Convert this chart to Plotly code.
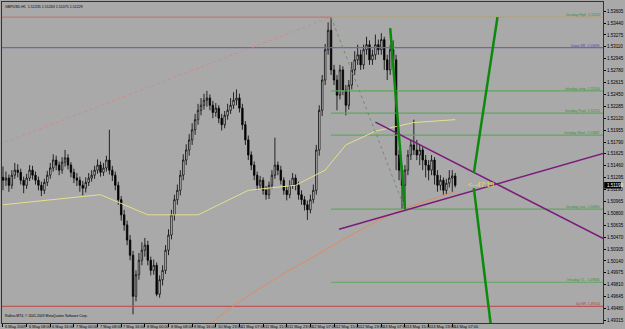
import plotly.graph_objects as go

# ---------------- data ----------------
opens = [1.5130,1.5126,1.5129,1.5119,1.5133,1.5140,1.5137,1.5126,1.5119,1.5129,
         1.5140,1.5133,1.5126,1.5119,1.5112,1.5123,1.5133,1.5143,1.5154,1.5147,
         1.5140,1.5151,1.5157,1.5147,1.5137,1.5129,1.5126,1.5119,1.5115,1.5123,
         1.5129,1.5133,1.5140,1.5147,1.5137,1.5143,1.5154,1.5140,1.5133,1.5119,
         1.5099,1.5078,1.5064,1.5043,1.5022,1.4965,1.4995,1.5015,1.5029,1.5036,
         1.5015,1.5001,1.5008,1.4968,1.4988,1.5001,1.5029,1.5050,1.5078,1.5099,
         1.5112,1.5133,1.5154,1.5168,1.5182,1.5196,1.5210,1.5223,1.5230,1.5237,
         1.5240,1.5230,1.5220,1.5226,1.5212,1.5203,1.5216,1.5223,1.5230,1.5237,
         1.5240,1.5226,1.5203,1.5182,1.5161,1.5147,1.5133,1.5119,1.5126,1.5112,
         1.5106,1.5119,1.5133,1.5147,1.5140,1.5126,1.5112,1.5106,1.5119,1.5129,
         1.5119,1.5106,1.5099,1.5092,1.5085,1.5099,1.5112,1.5168,1.5223,1.5265,
         1.5307,1.5334,1.5279,1.5265,1.5244,1.5279,1.5251,1.5230,1.5258,1.5279,
         1.5293,1.5300,1.5286,1.5307,1.5314,1.5293,1.5300,1.5314,1.5307,1.5321,
         1.5293,1.5279,1.5307,1.5293,1.5161,1.5140,1.5119,1.5140,1.5161,1.5175,
         1.5168,1.5161,1.5168,1.5154,1.5147,1.5140,1.5154,1.5133,1.5119,1.5126,
         1.5112,1.5122,1.5129,1.5132]
highs = [1.5145,1.5138,1.5134,1.5140,1.5150,1.5148,1.5142,1.5131,1.5135,1.5147,
         1.5146,1.5138,1.5131,1.5124,1.5128,1.5139,1.5150,1.5162,1.5160,1.5152,
         1.5158,1.5168,1.5162,1.5151,1.5142,1.5136,1.5131,1.5125,1.5130,1.5136,
         1.5140,1.5146,1.5155,1.5152,1.5150,1.5160,1.5196,1.5146,1.5138,1.5124,
         1.5104,1.5085,1.5070,1.5050,1.5028,1.5001,1.5025,1.5040,1.5046,1.5042,
         1.5020,1.5016,1.5012,1.4994,1.5008,1.5036,1.5058,1.5085,1.5106,1.5120,
         1.5140,1.5162,1.5176,1.5190,1.5205,1.5218,1.5232,1.5240,1.5246,1.5250,
         1.5245,1.5236,1.5233,1.5230,1.5218,1.5222,1.5232,1.5240,1.5248,1.5252,
         1.5246,1.5232,1.5208,1.5188,1.5166,1.5152,1.5138,1.5132,1.5130,1.5118,
         1.5124,1.5140,1.5185,1.5152,1.5146,1.5130,1.5118,1.5126,1.5136,1.5134,
         1.5124,1.5112,1.5104,1.5098,1.5106,1.5120,1.5175,1.5230,1.5272,1.5315,
         1.5345,1.5352,1.5286,1.5272,1.5286,1.5284,1.5258,1.5265,1.5290,1.5305,
         1.5314,1.5307,1.5314,1.5325,1.5320,1.5307,1.5328,1.5321,1.5330,1.5325,
         1.5300,1.5314,1.5320,1.5300,1.5168,1.5147,1.5147,1.5168,1.5182,1.5210,
         1.5182,1.5175,1.5172,1.5161,1.5154,1.5161,1.5158,1.5140,1.5133,1.5130,
         1.5128,1.5140,1.5140,1.5136]
lows = [1.5112,1.5118,1.5110,1.5114,1.5128,1.5130,1.5120,1.5108,1.5114,1.5125,
        1.5127,1.5120,1.5112,1.5104,1.5107,1.5118,1.5128,1.5138,1.5140,1.5133,
        1.5135,1.5145,1.5141,1.5130,1.5122,1.5118,1.5110,1.5105,1.5109,1.5118,
        1.5124,1.5128,1.5135,1.5131,1.5132,1.5138,1.5134,1.5125,1.5112,1.5092,
        1.5070,1.5056,1.5036,1.5015,1.4940,1.4958,1.4988,1.5008,1.5020,1.5008,
        1.4994,1.4995,1.4965,1.4963,1.4980,1.4996,1.5022,1.5044,1.5070,1.5092,
        1.5105,1.5126,1.5147,1.5160,1.5175,1.5189,1.5203,1.5216,1.5224,1.5228,
        1.5223,1.5212,1.5214,1.5205,1.5195,1.5198,1.5210,1.5218,1.5225,1.5230,
        1.5220,1.5196,1.5175,1.5154,1.5140,1.5126,1.5112,1.5114,1.5106,1.5099,
        1.5100,1.5114,1.5128,1.5133,1.5120,1.5106,1.5098,1.5101,1.5114,1.5112,
        1.5099,1.5092,1.5084,1.5071,1.5080,1.5094,1.5106,1.5160,1.5215,1.5258,
        1.5300,1.5272,1.5258,1.5223,1.5238,1.5244,1.5216,1.5224,1.5252,1.5272,
        1.5286,1.5279,1.5280,1.5300,1.5286,1.5286,1.5293,1.5300,1.5300,1.5279,
        1.5265,1.5272,1.5286,1.5140,1.5126,1.5086,1.5090,1.5133,1.5154,1.5161,
        1.5154,1.5147,1.5140,1.5130,1.5126,1.5133,1.5120,1.5110,1.5112,1.5106,
        1.5106,1.5116,1.5110,1.5116]
closes = [1.5126,1.5129,1.5119,1.5133,1.5140,1.5137,1.5126,1.5119,1.5129,1.5140,
          1.5133,1.5126,1.5119,1.5112,1.5123,1.5133,1.5143,1.5154,1.5147,1.5140,
          1.5151,1.5157,1.5147,1.5137,1.5129,1.5126,1.5119,1.5115,1.5123,1.5129,
          1.5133,1.5140,1.5147,1.5137,1.5143,1.5154,1.5140,1.5133,1.5119,1.5099,
          1.5078,1.5064,1.5043,1.5022,1.4965,1.4995,1.5015,1.5029,1.5036,1.5015,
          1.5001,1.5008,1.4968,1.4988,1.5001,1.5029,1.5050,1.5078,1.5099,1.5112,
          1.5133,1.5154,1.5168,1.5182,1.5196,1.5210,1.5223,1.5230,1.5237,1.5240,
          1.5230,1.5220,1.5226,1.5212,1.5203,1.5216,1.5223,1.5230,1.5237,1.5240,
          1.5226,1.5203,1.5182,1.5161,1.5147,1.5133,1.5119,1.5126,1.5112,1.5106,
          1.5119,1.5133,1.5147,1.5140,1.5126,1.5112,1.5106,1.5119,1.5129,1.5119,
          1.5106,1.5099,1.5092,1.5085,1.5099,1.5112,1.5168,1.5223,1.5265,1.5307,
          1.5334,1.5279,1.5265,1.5244,1.5279,1.5251,1.5230,1.5258,1.5279,1.5293,
          1.5300,1.5286,1.5307,1.5314,1.5293,1.5300,1.5314,1.5307,1.5321,1.5293,
          1.5279,1.5307,1.5293,1.5161,1.5140,1.5119,1.5140,1.5161,1.5175,1.5168,
          1.5161,1.5168,1.5154,1.5147,1.5140,1.5154,1.5133,1.5119,1.5126,1.5112,
          1.5122,1.5129,1.5132,1.5119]
bars = list(range(len(closes)))

# moving averages
ma_fast_x = [0, 16, 33, 49, 66, 83, 99, 109, 116, 126, 139, 153]
ma_fast_y = [1.5092, 1.5099, 1.5106, 1.5078, 1.5078, 1.5112, 1.5119, 1.5140, 1.5175, 1.5194, 1.5206, 1.5210]
ma_slow_x = [68, 76, 86, 96, 106, 116, 126, 136, 146, 153]
ma_slow_y = [1.4920, 1.4946, 1.4974, 1.4999, 1.5022, 1.5046, 1.5068, 1.5087, 1.5101, 1.5110]

# tick labels
x_tick_bars = [0, 8, 16, 24, 32, 40, 48, 56, 64, 72, 80, 88, 96, 104, 112, 120, 128, 136, 144, 152]
x_tick_text = ["6 May 2009", "6 May 08:00", "6 May 16:00", "7 May 00:00", "7 May 08:00", "7 May 16:00",
               "8 May 00:00", "8 May 08:00", "8 May 16:00", "10 May 23:00", "11 May 07:00", "11 May 15:00",
               "11 May 23:00", "12 May 07:00", "12 May 15:00", "12 May 23:00", "13 May 07:00",
               "13 May 15:00", "13 May 23:00", "14 May 07:00"]
y_ticks = [1.53605, 1.53440, 1.53275, 1.53110, 1.52945, 1.52780, 1.52615, 1.52450, 1.52285,
           1.52120, 1.51955, 1.51790, 1.51625, 1.51460, 1.51295, 1.51130, 1.50965, 1.50800,
           1.50635, 1.50470, 1.50305, 1.50140, 1.49975, 1.49810, 1.49645, 1.49480, 1.49315]

# horizontal levels
level_names = ["Intraday High", "Down SR", "Intraday Long", "Intraday Pivot", "Intraday Short",
               "Intraday Low", "Intraday T.L.", "Up SR"]
level_prices = [1.53522, 1.53099, 1.52500, 1.52191, 1.51887, 1.50860, 1.49845, 1.49510]
level_start = [111, -1, 111, 111, 111, 111, 111, -1]
level_line_colors = ["#b4a46e", "#6a6aa4", "#5fa85f", "#5fa85f", "#5fa85f", "#5fa85f", "#5fa85f", "#b85a5a"]
level_text_colors = ["#3d8f3d", "#4848a8", "#3d8f3d", "#3d8f3d", "#3d8f3d", "#3d8f3d", "#3d8f3d", "#b03a3a"]
old_high_price = 1.53522

# trend lines (bar, price) pairs
dotted_red = ([-1, 111], [1.51760, 1.53522])
dotted_green = ([111, 136], [1.53522, 1.50860])
green_a = ([131, 136], [1.53369, 1.50860])
green_b_up = ([159.3, 167.3], [1.51358, 1.53522])
green_b_dn = ([159.3, 165.0], [1.51150, 1.49264])
purple_a = ([126, 203.5], [1.52065, 1.50443])
purple_b = ([113.7, 203.5], [1.50581, 1.51636])

header = "GBPUSD,H1  1.51235 1.51263 1.51075 1.51229"
footer = "Rallina MT4, © 2001-2009 MetaQuotes Software Corp."
countdown = "<--47:19"
last_price = 1.51190

X_MAX = 203.0
BG = "#a9a9a9"
FONT = "Liberation Sans"

fig = go.Figure()

def line(xs, ys, color, width=1, dash="solid"):
    fig.add_trace(go.Scatter(x=xs, y=ys, mode="lines", hoverinfo="skip",
                             line=dict(color=color, width=width, dash=dash)))

line([-1, 111], [old_high_price, old_high_price], "#c07a7a", 1.2)
for name, p, s, lc in zip(level_names, level_prices, level_start, level_line_colors):
    line([s, X_MAX + 1], [p, p], lc, 1.2)

line(ma_slow_x, ma_slow_y, "#e08a66", 1)
line(ma_fast_x, ma_fast_y, "#e6e08c", 1)

line(*dotted_red, "#d08a8a", 1, "dot")
line(*dotted_green, "#6f8f6f", 1, "dot")

fig.add_trace(go.Candlestick(
    x=bars, open=opens, high=highs, low=lows, close=closes,
    increasing=dict(line=dict(color="black", width=0.8), fillcolor="white"),
    decreasing=dict(line=dict(color="black", width=0.8), fillcolor="black"),
    whiskerwidth=0, hoverinfo="skip"))

line(*purple_a, "#7a1a7a", 1.5)
line(*purple_b, "#7a1a7a", 1.5)
line(*green_a, "#0c8a0c", 2.5)
line(*green_b_up, "#0c8a0c", 2.5)
line(*green_b_dn, "#0c8a0c", 2.5)

ann = []
for name, p, tc in zip(level_names, level_prices, level_text_colors):
    ann.append(dict(x=X_MAX, y=p, xref="x", yref="y", xanchor="right", yanchor="bottom",
                    text=f"{name}  {p:.5f}", showarrow=False, yshift=-2, xshift=-1,
                    font=dict(family=FONT, size=3.4, color=tc)))
for b, t in zip(x_tick_bars, x_tick_text):
    ann.append(dict(x=b, y=0, xref="x", yref="paper", xanchor="left", yanchor="top",
                    text=t, showarrow=False, xshift=0, yshift=1,
                    font=dict(family=FONT, size=4, color="black")))
ann.append(dict(x=0, y=1, xref="paper", yref="paper", xanchor="left", yanchor="top",
                text=header, showarrow=False, xshift=1, yshift=-1,
                font=dict(family=FONT, size=3.6, color="black")))
ann.append(dict(x=0, y=0, xref="paper", yref="paper", xanchor="left", yanchor="bottom",
                text=footer, showarrow=False, xshift=1, yshift=3,
                font=dict(family=FONT, size=3.4, color="black")))
ann.append(dict(x=156, y=1.51205, xref="x", yref="y", xanchor="left", yanchor="middle",
                text=countdown, showarrow=False, xshift=2,
                font=dict(family=FONT, size=7, color="#e6dc50")))
ann.append(dict(x=1, y=last_price, xref="paper", yref="y", xanchor="left", yanchor="middle",
                text=f"{last_price:.5f}", showarrow=False, xshift=2,
                font=dict(family=FONT, size=4.5, color="white")))

shapes = [dict(type="rect", xref="paper", yref="y", x0=1.002, x1=1.03,
               y0=last_price - 0.00045, y1=last_price + 0.00045,
               fillcolor="black", line=dict(width=0), layer="above")]

fig.update_layout(
    width=625, height=329, margin=dict(l=1, r=14, t=2, b=6),
    paper_bgcolor=BG, plot_bgcolor=BG, showlegend=False,
    annotations=ann, shapes=shapes,
    xaxis=dict(range=[-0.33, X_MAX], showgrid=False, zeroline=False, rangeslider=dict(visible=False),
               tickvals=x_tick_bars, showticklabels=False, ticks="outside", ticklen=3,
               tickcolor="black", showline=True, linecolor="#333333", mirror=True, fixedrange=True),
    yaxis=dict(range=[1.49280, 1.53732], side="right", showgrid=False, zeroline=False,
               tickvals=y_ticks, ticktext=[f"{v:.5f}" for v in y_ticks], ticks="outside",
               ticklen=2, tickcolor="black", showline=True, linecolor="#333333", mirror=True,
               tickfont=dict(family=FONT, size=4.5, color="black"), fixedrange=True),
)

fig.write_html("out.html")
